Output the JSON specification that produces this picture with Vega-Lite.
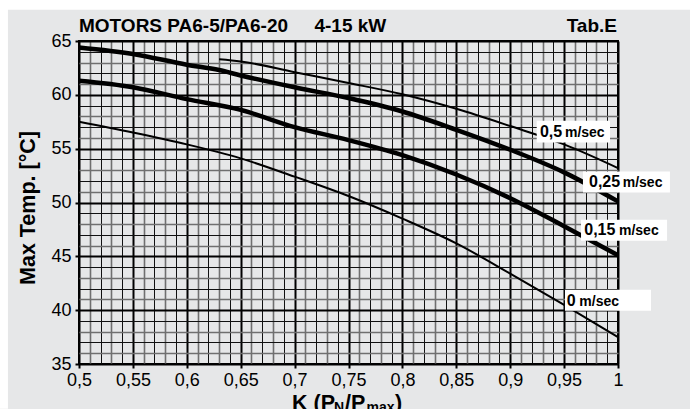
{
  "$schema": "https://vega.github.io/schema/vega-lite/v6.json",
  "width": 539,
  "height": 323,
  "autosize": {"type": "none"},
  "padding": {"left": 79, "top": 41, "right": 72, "bottom": 45},
  "background": "#e6e7e8",
  "config": {
    "view": {"stroke": "#000", "strokeWidth": 2, "fill": null},
    "font": "Liberation Sans",
    "text": {"font": "Liberation Sans"}
  },
  "datasets": {
    "curves": [
      {"speed": "0", "k": 0.5, "temp": 57.5},
      {"speed": "0", "k": 0.55, "temp": 56.5},
      {"speed": "0", "k": 0.6, "temp": 55.4},
      {"speed": "0", "k": 0.65, "temp": 54.1},
      {"speed": "0", "k": 0.7, "temp": 52.4},
      {"speed": "0", "k": 0.75, "temp": 50.6},
      {"speed": "0", "k": 0.8, "temp": 48.5},
      {"speed": "0", "k": 0.85, "temp": 46.2},
      {"speed": "0", "k": 0.9, "temp": 43.4},
      {"speed": "0", "k": 0.95, "temp": 40.5},
      {"speed": "0", "k": 1.0, "temp": 37.5},
      {"speed": "0,15", "k": 0.5, "temp": 61.3},
      {"speed": "0,15", "k": 0.55, "temp": 60.7},
      {"speed": "0,15", "k": 0.6, "temp": 59.6},
      {"speed": "0,15", "k": 0.65, "temp": 58.6},
      {"speed": "0,15", "k": 0.7, "temp": 57.0},
      {"speed": "0,15", "k": 0.75, "temp": 55.8},
      {"speed": "0,15", "k": 0.8, "temp": 54.4},
      {"speed": "0,15", "k": 0.85, "temp": 52.6},
      {"speed": "0,15", "k": 0.9, "temp": 50.4},
      {"speed": "0,15", "k": 0.95, "temp": 47.8},
      {"speed": "0,15", "k": 1.0, "temp": 45.1},
      {"speed": "0,25", "k": 0.5, "temp": 64.4},
      {"speed": "0,25", "k": 0.55, "temp": 63.8},
      {"speed": "0,25", "k": 0.6, "temp": 62.8},
      {"speed": "0,25", "k": 0.63, "temp": 62.3},
      {"speed": "0,25", "k": 0.65, "temp": 61.8},
      {"speed": "0,25", "k": 0.7, "temp": 60.7},
      {"speed": "0,25", "k": 0.75, "temp": 59.7},
      {"speed": "0,25", "k": 0.8, "temp": 58.45},
      {"speed": "0,25", "k": 0.85, "temp": 56.75},
      {"speed": "0,25", "k": 0.9, "temp": 54.9},
      {"speed": "0,25", "k": 0.95, "temp": 52.8},
      {"speed": "0,25", "k": 1.0, "temp": 50.1},
      {"speed": "0,5", "k": 0.63, "temp": 63.3},
      {"speed": "0,5", "k": 0.65, "temp": 63.1},
      {"speed": "0,5", "k": 0.7, "temp": 62.1},
      {"speed": "0,5", "k": 0.75, "temp": 61.1},
      {"speed": "0,5", "k": 0.8, "temp": 60.05},
      {"speed": "0,5", "k": 0.85, "temp": 58.7},
      {"speed": "0,5", "k": 0.9, "temp": 57.1},
      {"speed": "0,5", "k": 0.95, "temp": 55.4},
      {"speed": "0,5", "k": 1.0, "temp": 53.2}
    ],
    "labels": [
      {"num": "0,5", "unit": "m/sec", "bx1": 0.9246, "bx2": 0.9926, "by1": 55.58, "by2": 57.59, "nx": 0.9276, "ux": 0.9508, "ty": 56.04},
      {"num": "0,25", "unit": "m/sec", "bx1": 0.9675, "bx2": 1.0482, "by1": 50.93, "by2": 52.88, "nx": 0.9731, "ux": 1.0044, "ty": 51.43},
      {"num": "0,15", "unit": "m/sec", "bx1": 0.9657, "bx2": 1.0455, "by1": 46.45, "by2": 48.4, "nx": 0.9687, "ux": 1.0009, "ty": 47.0},
      {"num": "0", "unit": "m/sec", "bx1": 0.9508, "bx2": 1.0306, "by1": 39.95, "by2": 41.9, "nx": 0.9524, "ux": 0.9641, "ty": 40.41}
    ]
  },
  "layer": [
    {
      "data": {"name": "curves"},
      "mark": {"type": "line", "color": "#000", "interpolate": "monotone", "strokeCap": "butt"},
      "encoding": {
        "x": {
          "field": "k", "type": "quantitative",
          "scale": {"domain": [0.5, 1], "nice": false, "zero": false},
          "axis": {
            "title": null,
            "values": [0.5,0.51,0.52,0.53,0.54,0.55,0.56,0.57,0.58,0.59,0.6,0.61,0.62,0.63,0.64,0.65,0.66,0.67,0.68,0.69,0.7,0.71,0.72,0.73,0.74,0.75,0.76,0.77,0.78,0.79,0.8,0.81,0.82,0.83,0.84,0.85,0.86,0.87,0.88,0.89,0.9,0.91,0.92,0.93,0.94,0.95,0.96,0.97,0.98,0.99,1.0],
            "tickCount": 200,
            "domain": false,
            "grid": true,
            "gridColor": {"condition": [{"test": "abs(datum.value*20-round(datum.value*20))<0.001", "value": "#000"}, {"test": "(round(datum.value*100)%5)%2==1", "value": "#6f6f6f"}], "value": "#111"},
            "gridWidth": {"condition": [{"test": "abs(datum.value*20-round(datum.value*20))<0.001", "value": 2}, {"test": "(round(datum.value*100)%5)%2==1", "value": 1.6}], "value": 1},
            "gridOpacity": 1,
            "ticks": true,
            "tickColor": "#000",
            "tickWidth": 2,
            "tickSize": 4,
            "tickOpacity": {"condition": {"test": "abs(datum.value*20-round(datum.value*20))<0.001", "value": 1}, "value": 0},
            "labelExpr": "abs(datum.value*20-round(datum.value*20))<0.001 ? replace(datum.value+'', '.', ',') : ''",
            "labelFont": "Liberation Sans",
            "labelFontSize": 18,
            "labelColor": "#000",
            "labelPadding": 3,
            "labelOverlap": false,
            "labelFlush": false,
            "labelBound": false
          }
        },
        "y": {
          "field": "temp", "type": "quantitative",
          "scale": {"domain": [35, 65], "nice": false, "zero": false},
          "axis": {
            "title": "Max Temp. [°C]",
            "titleFont": "Liberation Sans",
            "titleFontSize": 21.5,
            "titleFontWeight": "bold",
            "titleColor": "#000",
            "titleX": -50.5,
            "titleY": 166.5,
            "titleBaseline": "middle",
            "titleAngle": -90,
            "values": [35,36,37,38,39,40,41,42,43,44,45,46,47,48,49,50,51,52,53,54,55,56,57,58,59,60,61,62,63,64,65],
            "tickCount": 200,
            "domain": false,
            "grid": true,
            "gridColor": {"condition": [{"test": "datum.value%5==0", "value": "#000"}, {"test": "(datum.value%5)%2==1", "value": "#6f6f6f"}], "value": "#111"},
            "gridWidth": {"condition": [{"test": "datum.value%5==0", "value": 2}, {"test": "(datum.value%5)%2==1", "value": 1.6}], "value": 1},
            "gridOpacity": 1,
            "ticks": true,
            "tickColor": "#000",
            "tickWidth": 2,
            "tickSize": 4,
            "tickOpacity": {"condition": {"test": "datum.value%5==0", "value": 1}, "value": 0},
            "labelExpr": "datum.value%5==0 ? datum.value+'' : ''",
            "labelFont": "Liberation Sans",
            "labelFontSize": 18,
            "labelColor": "#000",
            "labelPadding": 4,
            "labelOverlap": false,
            "labelFlush": false,
            "labelBound": false
          }
        },
        "detail": {"field": "speed", "type": "nominal"},
        "strokeWidth": {"condition": {"test": "datum.speed=='0,15' || datum.speed=='0,25'", "value": 4.5}, "value": 2}
      }
    },
    {
      "data": {"values": [{}]},
      "mark": {"type": "rect", "color": "#ffffff", "clip": false},
      "encoding": {
        "x": {"datum": 0.4267, "type": "quantitative", "scale": {"domain": [0.5, 1], "nice": false, "zero": false}},
        "x2": {"datum": 1.0668},
        "y": {"datum": 68.83, "type": "quantitative", "scale": {"domain": [35, 65], "nice": false, "zero": false}},
        "y2": {"datum": 67.9}
      }
    },
    {
      "data": {"values": [{}]},
      "mark": {"type": "rect", "color": "#ffffff", "clip": false},
      "encoding": {
        "x": {"datum": 0.4267, "type": "quantitative", "scale": {"domain": [0.5, 1], "nice": false, "zero": false}},
        "x2": {"datum": 0.4341},
        "y": {"datum": 68.83, "type": "quantitative", "scale": {"domain": [35, 65], "nice": false, "zero": false}},
        "y2": {"datum": 30.85}
      }
    },
    {
      "data": {"name": "labels"},
      "mark": {"type": "rect", "color": "#ffffff", "clip": false},
      "encoding": {
        "x": {"field": "bx1", "type": "quantitative", "scale": {"domain": [0.5, 1], "nice": false, "zero": false}},
        "x2": {"field": "bx2"},
        "y": {"field": "by1", "type": "quantitative", "scale": {"domain": [35, 65], "nice": false, "zero": false}},
        "y2": {"field": "by2"}
      }
    },
    {
      "data": {"name": "labels"},
      "mark": {"type": "text", "align": "left", "baseline": "alphabetic", "fontSize": 16, "fontWeight": "bold", "color": "#000"},
      "encoding": {
        "x": {"field": "nx", "type": "quantitative", "scale": {"domain": [0.5, 1], "nice": false, "zero": false}},
        "y": {"field": "ty", "type": "quantitative", "scale": {"domain": [35, 65], "nice": false, "zero": false}},
        "text": {"field": "num"}
      }
    },
    {
      "data": {"name": "labels"},
      "mark": {"type": "text", "align": "left", "baseline": "alphabetic", "fontSize": 14, "fontWeight": "bold", "color": "#000"},
      "encoding": {
        "x": {"field": "ux", "type": "quantitative", "scale": {"domain": [0.5, 1], "nice": false, "zero": false}},
        "y": {"field": "ty", "type": "quantitative", "scale": {"domain": [35, 65], "nice": false, "zero": false}},
        "text": {"field": "unit"}
      }
    },
    {
      "data": {"values": [{}]},
      "mark": {"type": "text", "align": "left", "baseline": "alphabetic", "fontSize": 19, "fontWeight": "bold", "color": "#000", "dy": -9.3, "text": "MOTORS PA6-5/PA6-20\u00a0\u00a0\u00a0\u00a0\u00a04-15 kW"},
      "encoding": {
        "x": {"datum": 0.5, "type": "quantitative", "scale": {"domain": [0.5, 1], "nice": false, "zero": false}},
        "y": {"datum": 65, "type": "quantitative", "scale": {"domain": [35, 65], "nice": false, "zero": false}}
      }
    },
    {
      "data": {"values": [{}]},
      "mark": {"type": "text", "align": "right", "baseline": "alphabetic", "fontSize": 19, "fontWeight": "bold", "color": "#000", "dy": -9.3, "dx": -1, "text": "Tab.E"},
      "encoding": {
        "x": {"datum": 1, "type": "quantitative", "scale": {"domain": [0.5, 1], "nice": false, "zero": false}},
        "y": {"datum": 65, "type": "quantitative", "scale": {"domain": [35, 65], "nice": false, "zero": false}}
      }
    },
    {
      "data": {"values": [{}]},
      "mark": {"type": "text", "align": "left", "baseline": "alphabetic", "fontSize": 21.5, "fontWeight": "bold", "color": "#000", "dy": 46, "dx": 0, "text": "K (P"},
      "encoding": {
        "x": {"datum": 0.6976, "type": "quantitative", "scale": {"domain": [0.5, 1], "nice": false, "zero": false}},
        "y": {"datum": 35, "type": "quantitative", "scale": {"domain": [35, 65], "nice": false, "zero": false}}
      }
    },
    {
      "data": {"values": [{}]},
      "mark": {"type": "text", "align": "left", "baseline": "alphabetic", "fontSize": 14, "fontWeight": "bold", "color": "#000", "dy": 48, "dx": 42, "text": "N"},
      "encoding": {
        "x": {"datum": 0.6976, "type": "quantitative", "scale": {"domain": [0.5, 1], "nice": false, "zero": false}},
        "y": {"datum": 35, "type": "quantitative", "scale": {"domain": [35, 65], "nice": false, "zero": false}}
      }
    },
    {
      "data": {"values": [{}]},
      "mark": {"type": "text", "align": "left", "baseline": "alphabetic", "fontSize": 21.5, "fontWeight": "bold", "color": "#000", "dy": 46, "dx": 53, "text": "/P"},
      "encoding": {
        "x": {"datum": 0.6976, "type": "quantitative", "scale": {"domain": [0.5, 1], "nice": false, "zero": false}},
        "y": {"datum": 35, "type": "quantitative", "scale": {"domain": [35, 65], "nice": false, "zero": false}}
      }
    },
    {
      "data": {"values": [{}]},
      "mark": {"type": "text", "align": "left", "baseline": "alphabetic", "fontSize": 14, "fontWeight": "bold", "color": "#000", "dy": 48, "dx": 74.5, "text": "max"},
      "encoding": {
        "x": {"datum": 0.6976, "type": "quantitative", "scale": {"domain": [0.5, 1], "nice": false, "zero": false}},
        "y": {"datum": 35, "type": "quantitative", "scale": {"domain": [35, 65], "nice": false, "zero": false}}
      }
    },
    {
      "data": {"values": [{}]},
      "mark": {"type": "text", "align": "left", "baseline": "alphabetic", "fontSize": 21.5, "fontWeight": "bold", "color": "#000", "dy": 46, "dx": 103, "text": ")"},
      "encoding": {
        "x": {"datum": 0.6976, "type": "quantitative", "scale": {"domain": [0.5, 1], "nice": false, "zero": false}},
        "y": {"datum": 35, "type": "quantitative", "scale": {"domain": [35, 65], "nice": false, "zero": false}}
      }
    }
  ]
}
